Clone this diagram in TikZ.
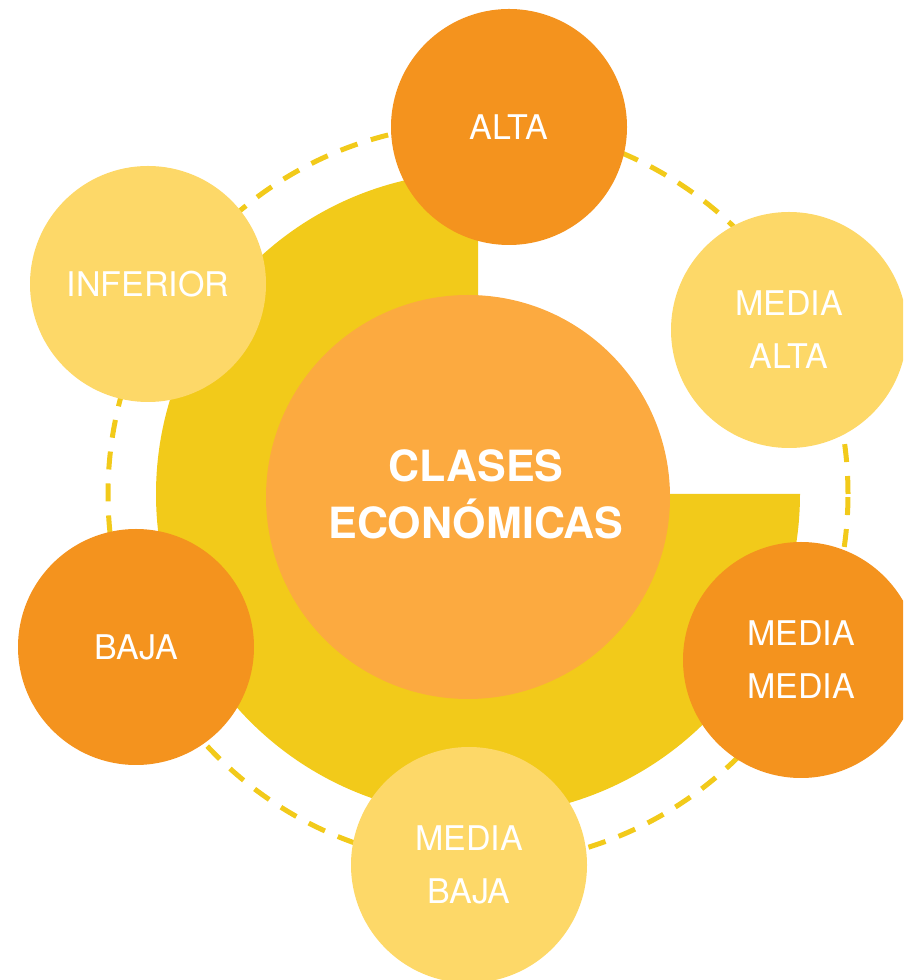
\documentclass[tikz,border=0pt]{standalone}
\usepackage{fontspec}
\setmainfont{TeX Gyre Heros}
\begin{document}
\definecolor{darkorange}{HTML}{F4931E}
\definecolor{lightyellow}{HTML}{FDD868}
\definecolor{ringyellow}{HTML}{F2CA1A}
\definecolor{coreorange}{HTML}{FCAA40}
\begin{tikzpicture}[x=1pt,y=1pt,
  sat/.style={circle, minimum size=236pt, inner sep=0pt, text=white,
    align=center, font=\fontsize{34}{53}\selectfont},
  satdark/.style={sat, fill=darkorange},
  satlight/.style={sat, fill=lightyellow}]
\useasboundingbox (0,0) rectangle (903,980);
\clip (0,0) rectangle (903,980);
\coordinate (c) at (478,486);
% dashed orbit
\draw[ringyellow, line width=5pt, dash pattern=on 18pt off 14pt] (c) circle[radius=370];
% three-quarter disk, top-right quadrant cut away
\fill[ringyellow] (c) -- ++(0,322) arc[start angle=90, end angle=360, radius=322] -- cycle;
% core
\node[circle, fill=coreorange, minimum size=404pt, inner sep=0pt] (core) at (468,483) {};
\node[text=white, align=center, font=\fontsize{43}{57}\selectfont\bfseries] (title) at (476,486) {CLASES\\ECONÓMICAS};
% satellites
\node[satdark] (alta) at (509,853) {ALTA};
\node[satlight] (inferior) at (148,696) {INFERIOR};
\node[satlight] (mediaalta) at (789,650) {MEDIA\\ALTA};
\node[satdark] (mediamedia) at (801,320) {MEDIA\\MEDIA};
\node[satdark] (baja) at (136,333) {BAJA};
\node[satlight] (mediabaja) at (469,115) {MEDIA\\BAJA};
\end{tikzpicture}
\end{document}
